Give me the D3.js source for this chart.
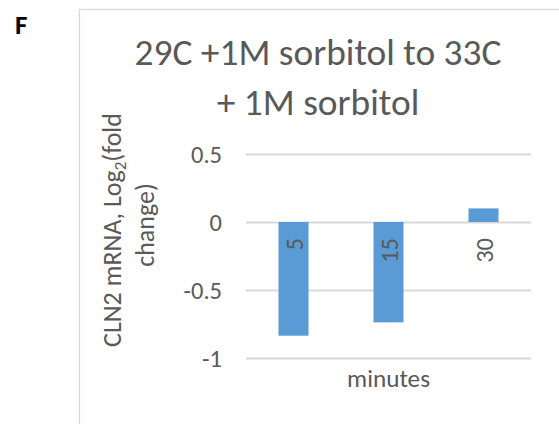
<!DOCTYPE html>
<html>
<head>
<meta charset="utf-8">
<script src="https://cdn.jsdelivr.net/npm/d3@7"></script>
<style>
  html, body { margin: 0; padding: 0; background: #fff; }
  svg { display: block; font-family: Carlito, Lato, "Open Sans", sans-serif; }
</style>
</head>
<body>
<svg id="chart" width="559" height="424"></svg>
<script>
// ---- data ----
const categories = ["5", "15", "30"];
const values = [-0.836, -0.738, 0.10];
const yTicks = [-1, -0.5, 0, 0.5];
const yTickLabels = ["-1", "-0.5", "0", "0.5"];
const titleLines = ["29C +1M sorbitol to 33C", "+ 1M sorbitol"];
const yTitleLines = ["CLN2 mRNA, Log", "2", "(fold", "change)"];
const xTitle = "minutes";
const panelLabel = "F";

// ---- layout ----
const W = 559, H = 424;
const plot = { left: 246, right: 531, top: 154, bottom: 358 };
const textColor = "#595959";
const gridColor = "#D9D9D9";
const barColor = "#5B9BD5";

const svg = d3.select("#chart");

// fit font size so text spans target width
function fit(sel, targetW) {
  const node = sel.node();
  const fs = parseFloat(sel.attr("font-size"));
  const w = node.getComputedTextLength();
  if (w > 0) sel.attr("font-size", (fs * targetW / w).toFixed(2));
  return sel;
}

// chart border (only left/top visible)
svg.append("rect")
  .attr("x", 79.5).attr("y", 9.5)
  .attr("width", 600).attr("height", 600)
  .attr("fill", "none").attr("stroke", gridColor).attr("stroke-width", 1.3);

// panel label
svg.append("text")
  .attr("x", 15).attr("y", 34)
  .attr("font-size", 27).attr("font-weight", "bold")
  .attr("fill", "#000")
  .text(panelLabel);

// scales
const x = d3.scaleBand().domain(categories).range([plot.left, plot.right]).paddingInner(0.684).paddingOuter(0.342);
const y = d3.scaleLinear().domain([-1, 0.5]).range([plot.bottom, plot.top]);

// gridlines
const yAxis = d3.axisLeft(y).tickValues(yTicks).tickSize(-(plot.right - plot.left)).tickFormat((d, i) => yTickLabels[i]).tickPadding(24);
const gAxis = svg.append("g").attr("transform", `translate(${plot.left},0)`).call(yAxis);
gAxis.select(".domain").remove();
gAxis.selectAll(".tick line").attr("stroke", gridColor).attr("stroke-width", 2);
gAxis.selectAll(".tick text")
  .attr("fill", textColor).attr("font-size", 22.5)
  .attr("font-family", "Carlito, Lato, 'Open Sans', sans-serif")
  .attr("dy", "0.35em");
gAxis.selectAll(".tick text").each(function(d) {
  const t = d3.select(this);
  if (d === 0.5) fit(t, 31);
});
const tickFs = gAxis.selectAll(".tick text").filter(d => d === 0.5).attr("font-size");
gAxis.selectAll(".tick text").attr("font-size", tickFs);

// bars
svg.append("g").selectAll("rect")
  .data(values)
  .join("rect")
  .attr("x", (d, i) => x(categories[i]))
  .attr("width", x.bandwidth())
  .attr("y", d => y(Math.max(0, d)))
  .attr("height", d => Math.abs(y(d) - y(0)))
  .attr("fill", barColor);

// category labels (rotated, just below zero line)
svg.append("g").selectAll("text")
  .data(categories)
  .join("text")
  .attr("transform", d => `translate(${x(d) + x.bandwidth() / 2 + 9.5},${y(0) + 16}) rotate(-90)`)
  .attr("text-anchor", "end")
  .attr("font-size", tickFs)
  .attr("fill", textColor)
  .text(d => d);

// x axis title
fit(svg.append("text")
  .attr("x", (plot.left + plot.right) / 2).attr("y", 387)
  .attr("text-anchor", "middle")
  .attr("font-size", 25).attr("fill", textColor)
  .text(xTitle), 83);

// chart title
const titleWidths = [367, 210];
const titleBase = [65, 115];
let titleFs = null;
titleLines.forEach((line, i) => {
  const t = svg.append("text")
    .attr("x", 318).attr("y", titleBase[i])
    .attr("text-anchor", "middle")
    .attr("font-size", 35).attr("fill", textColor)
    .text(line);
  if (i === 0) { fit(t, titleWidths[0]); titleFs = t.attr("font-size"); }
  else t.attr("font-size", titleFs);
});

// y axis title (two lines, rotated)
const yt1 = svg.append("text")
  .attr("transform", "translate(121,230) rotate(-90)")
  .attr("text-anchor", "middle")
  .attr("font-size", 25).attr("fill", textColor);
yt1.append("tspan").text(yTitleLines[0]);
yt1.append("tspan").attr("font-size", "0.65em").attr("dy", "0.3em").text(yTitleLines[1]);
yt1.append("tspan").attr("dy", "-0.195em").text(yTitleLines[2]);
(function () {
  const w = yt1.node().getComputedTextLength();
  const fs = 25 * 234 / w;
  yt1.attr("font-size", fs.toFixed(2));
})();
svg.append("text")
  .attr("transform", "translate(154,225) rotate(-90)")
  .attr("text-anchor", "middle")
  .attr("font-size", yt1.attr("font-size")).attr("fill", textColor)
  .text(yTitleLines[3]);
</script>
</body>
</html>
